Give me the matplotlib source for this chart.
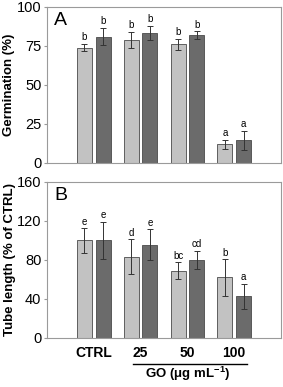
import numpy as np
import matplotlib.pyplot as plt
from matplotlib.transforms import blended_transform_factory

plt.rcParams['font.family'] = ['Liberation Sans', 'DejaVu Sans']
plt.rcParams['mathtext.fontset'] = 'custom'
plt.rcParams['mathtext.bf'] = 'Liberation Sans:bold'
plt.rcParams['mathtext.rm'] = 'Liberation Sans:bold'

groups = ["CTRL", "25", "50", "100"]

germ_light = [74.0, 79.0, 76.0, 12.0]
germ_light_err = [2.5, 5.0, 3.7, 2.9]
germ_dark = [81.0, 83.5, 82.0, 14.5]
germ_dark_err = [5.7, 4.6, 2.5, 6.0]
germ_light_lab = ["b", "b", "b", "a"]
germ_dark_lab = ["b", "b", "b", "a"]

tube_light = [100.0, 83.0, 69.0, 62.0]
tube_light_err = [12.5, 18.0, 8.7, 18.6]
tube_dark = [100.0, 95.5, 80.0, 42.5]
tube_dark_err = [19.3, 16.0, 9.4, 12.8]
tube_light_lab = ["e", "d", "bc", "b"]
tube_dark_lab = ["e", "e", "cd", "a"]

LIGHT = "#c2c2c2"
DARK = "#6b6b6b"
EDGE = "#4a4a4a"
FRAME = "#9a9a9a"

x = np.arange(len(groups))
off = 0.2
w = 0.32

fig = plt.figure(figsize=(2.83, 3.87), dpi=100)
ax1 = fig.add_axes([0.166, 0.579, 0.827, 0.403])
ax2 = fig.add_axes([0.166, 0.127, 0.827, 0.403])


def draw_panel(ax, light, light_err, dark, dark_err, lab_l, lab_d, ymax, pad):
    ax.bar(x - off, light, w, color=LIGHT, edgecolor=EDGE, linewidth=0.6)
    ax.bar(x + off, dark, w, color=DARK, edgecolor=EDGE, linewidth=0.6)
    ax.errorbar(x - off, light, yerr=light_err, fmt="none", ecolor="#333333",
                elinewidth=0.7, capsize=2.2, capthick=0.7)
    ax.errorbar(x + off, dark, yerr=dark_err, fmt="none", ecolor="#333333",
                elinewidth=0.7, capsize=2.2, capthick=0.7)
    for xi, v, e, t in zip(x - off, light, light_err, lab_l):
        ax.text(xi, v + e + pad, t, ha="center", va="bottom", fontsize=7)
    for xi, v, e, t in zip(x + off, dark, dark_err, lab_d):
        ax.text(xi, v + e + pad, t, ha="center", va="bottom", fontsize=7)
    ax.set_xlim(-1, 4)
    ax.set_ylim(0, ymax)
    for s in ax.spines.values():
        s.set_color(FRAME)
        s.set_linewidth(0.8)
    ax.tick_params(axis="y", length=2, color=FRAME, labelsize=10.5, pad=2)


draw_panel(ax1, germ_light, germ_light_err, germ_dark, germ_dark_err,
           germ_light_lab, germ_dark_lab, 100, 1.0)
ax1.set_yticks([0, 25, 50, 75, 100])
ax1.set_xticks([])
ax1.set_ylabel("Germination (%)", fontsize=9.5, fontweight="bold", labelpad=1)
ax1.text(0.03, 0.97, "A", transform=ax1.transAxes, ha="left", va="top", fontsize=14)

draw_panel(ax2, tube_light, tube_light_err, tube_dark, tube_dark_err,
           tube_light_lab, tube_dark_lab, 160, 1.5)
ax2.set_yticks([0, 40, 80, 120, 160])
ax2.set_xticks(x)
ax2.set_xticklabels(groups, fontsize=10, fontweight="bold")
ax2.tick_params(axis="x", length=0, pad=6)
ax2.set_ylabel("Tube length (% of CTRL)", fontsize=9.5, fontweight="bold", labelpad=1)
ax2.text(0.03, 0.97, "B", transform=ax2.transAxes, ha="left", va="top", fontsize=14)

tr = blended_transform_factory(ax2.transData, ax2.transAxes)
ax2.plot([0.83, 3.28], [-0.167, -0.167], color="black", lw=1.0,
         transform=tr, clip_on=False)
ax2.text(2.0, -0.23, "GO (\u03bcg mL$^{\\mathbf{-1}}$)", transform=tr,
         ha="center", va="center", fontsize=9.5, fontweight="bold")

fig.align_ylabels([ax1, ax2])
fig.savefig("out.png", dpi=100)
